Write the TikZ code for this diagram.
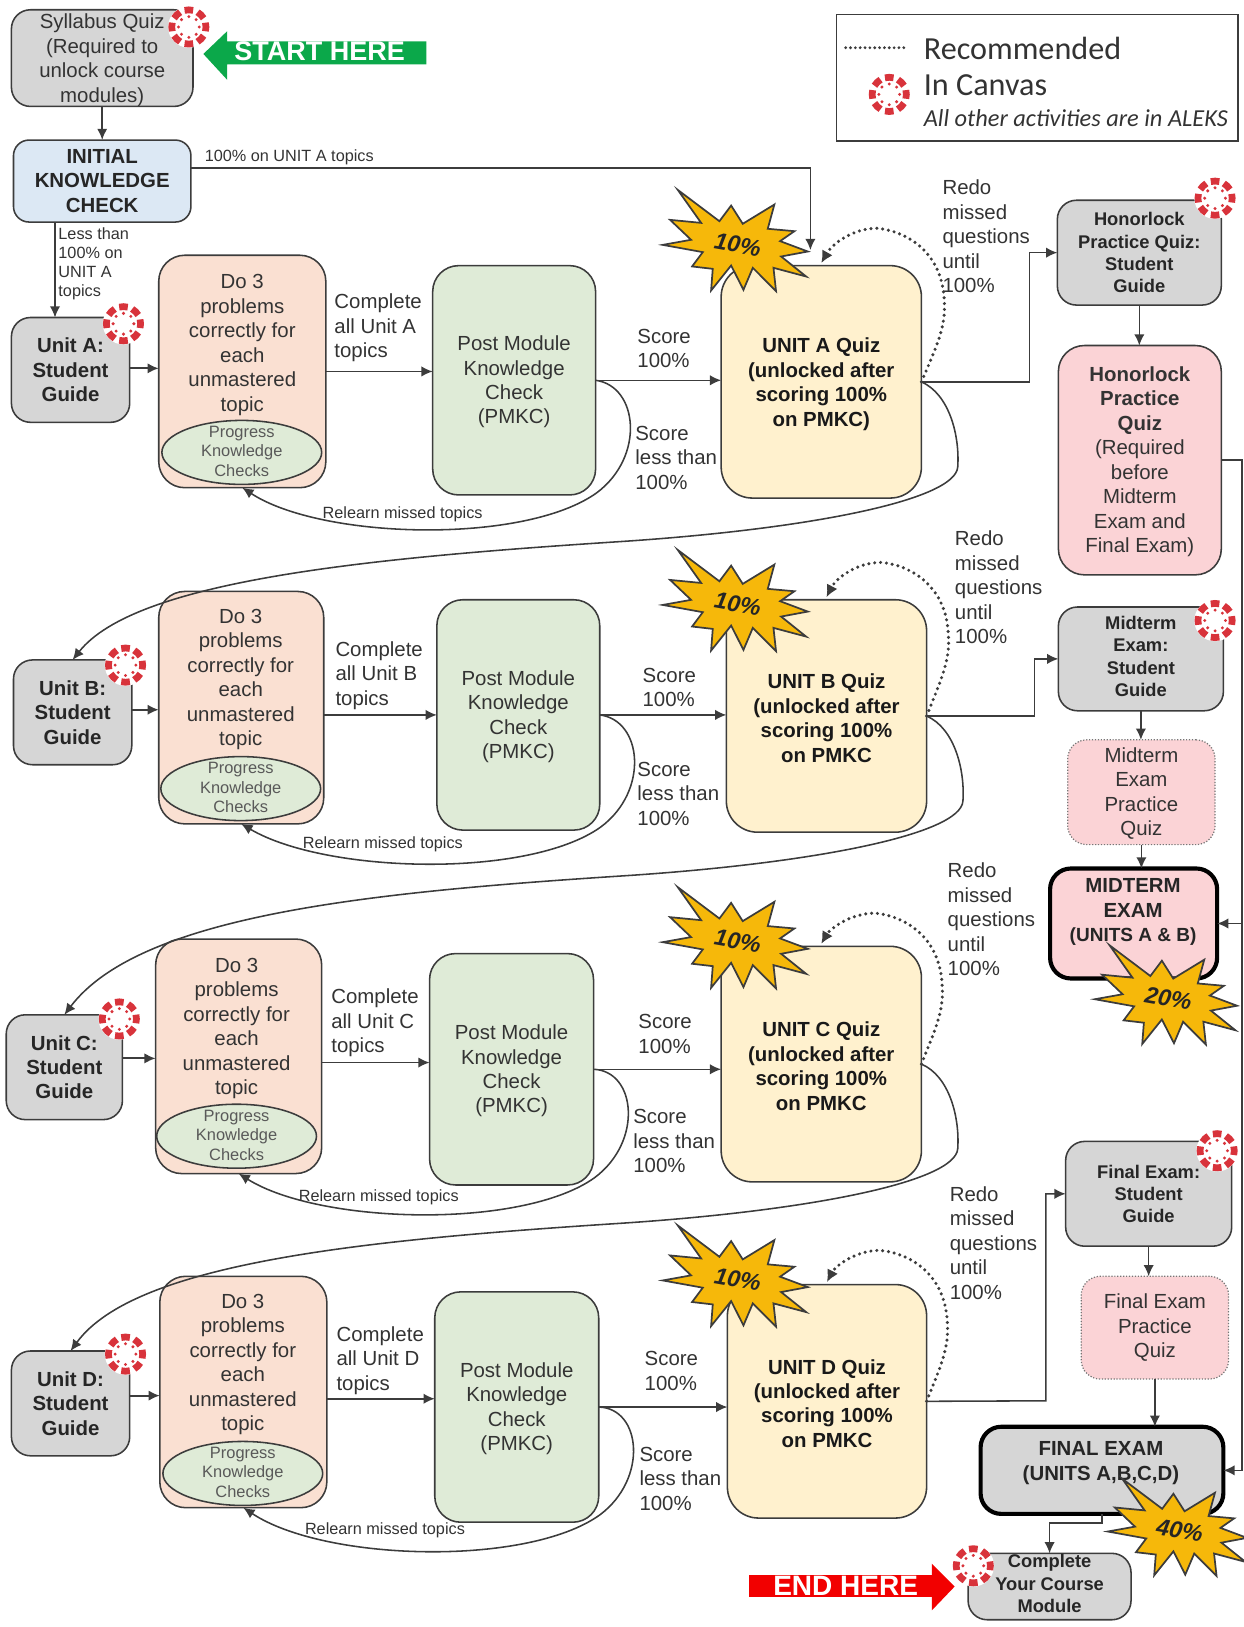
\documentclass[tikz,border=0pt]{standalone}
\usepackage{fontspec}
\setmainfont{Liberation Sans}
\newfontfamily\legfont{Carlito}
\usetikzlibrary{arrows.meta,shapes.geometric,calc}
\definecolor{grayfill}{HTML}{D6D6D6}
\definecolor{bluefill}{HTML}{DCE8F4}
\definecolor{peachfill}{HTML}{FAE0D2}
\definecolor{greenfill}{HTML}{DFEBD7}
\definecolor{yellowfill}{HTML}{FFF1CE}
\definecolor{pinkfill}{HTML}{FBD3D6}
\definecolor{edge}{HTML}{3C3C3C}
\definecolor{txt}{HTML}{333333}
\definecolor{canvasred}{HTML}{D8333B}
\definecolor{burstfill}{HTML}{F6B80A}
\definecolor{startgreen}{HTML}{0BA84A}
\newcommand{\fs}[2]{\fontsize{#1}{#2}\selectfont}
\newcommand{\nd}[1]{\rule{0pt}{#1}}
\tikzset{
 nudgeup/.style={execute at end node={\rule[-#1]{0pt}{0pt}}},
 bxbase/.style={draw=edge,line width=.9pt,inner sep=0pt,outer sep=0pt,align=center,text=txt,font=\fs{11.8}{14.15}},
 graybox/.style={bxbase,fill=grayfill,rounded corners=11pt},
 sgbox/.style={graybox,font=\bfseries\fs{11.8}{14.1},text=black!85},
 smallgray/.style={graybox,font=\bfseries\fs{10.6}{12.9},text=black!85},
 icbox/.style={bxbase,fill=bluefill,rounded corners=9pt,font=\bfseries\fs{11.8}{14.3},text=black!85},
 dobox/.style={bxbase,fill=peachfill,rounded corners=15pt},
 pmbox/.style={bxbase,fill=greenfill,rounded corners=15pt},
 qzbox/.style={bxbase,fill=yellowfill,rounded corners=18pt,font=\bfseries\fs{11.8}{14.15},text=black!90},
 pinkbig/.style={bxbase,fill=pinkfill,rounded corners=15pt},
 pinkdot/.style={bxbase,fill=pinkfill,rounded corners=11pt,draw=edge!70,line width=.7pt,densely dotted},
 exambox/.style={bxbase,line width=2.4pt,draw=black,rounded corners=12pt},
 pkell/.style={ellipse,draw=edge,line width=.9pt,fill=greenfill,inner sep=0pt,outer sep=0pt},
 pktext/.style={inner sep=0pt,align=center,text=edge!85,font=\fs{9.5}{11.4}},
 txtblock/.style={inner sep=0pt,align=center,text=txt,font=\fs{11.8}{14.15}},
 lbl/.style={inner sep=0pt,anchor=west,align=left,text=txt,font=\fs{11.8}{14.2}},
 smalllbl/.style={inner sep=0pt,align=left,text=txt,font=\fs{9.4}{11}},
 arr/.style={-{Latex[length=6.5pt,width=6pt]},line width=.9pt,draw=edge},
 dotline/.style={line width=2pt,draw=edge,line cap=round,dash pattern=on 0pt off 3.4pt},
 bursttext/.style={inner sep=0pt,rotate=-10,font=\bfseries\itshape\fs{13.5}{14},text=black!85},
 burst/.pic={
  \draw[fill=burstfill,draw=edge,line width=1pt,line join=miter]
   (-57.8,-52)--(-17.7,-21.8)--(-6.4,-36.9)--(4.8,-19.3)--(35.3,-37.9)--(28.9,-14.5)--(54.6,-12.2)
   --(40.8,-2.6)--(67.5,7.4)--(41.8,12.2)--(65.9,31.5)--(34.4,23.1)--(36.9,45.6)--(14.5,23.1)
   --(5.5,44.3)--(-6.4,20.9)--(-25.7,45)--(-24.1,24.1)--(-44,21.8)--(-33.7,8)--(-72.3,1)--(-45,-3.9)
   --(-65.2,-23.1)--(-35.3,-20.2)--cycle;
 },
 canvasicon/.pic={
  \fill[white] (0,0) circle (20);
  \foreach \a in {0,45,...,315}{
   \draw[canvasred,line width=3.9pt] (\a-14.5:16.5) arc[start angle=\a-14.5,end angle=\a+14.5,radius=16.5];
   \fill[canvasred] (\a:10) circle (1.6);
  }
 }
}
\newcommand{\bx}[7][]{%
 \pgfmathsetmacro\bxcx{(#3+#5)/2}\pgfmathsetmacro\bxcy{(#4+#6)/2}%
 \node[#1,minimum width={(#5-#3)*0.6pt},minimum height={(#6-#4)*0.6pt}] (#2) at (\bxcx,\bxcy) {#7};}
\newcommand{\dotxt}{Do 3\\problems\\correctly for\\each\\unmastered\\topic}
\newcommand{\pktxt}{Progress\\Knowledge\\Checks}
\newcommand{\pmtxt}{\nd{10.5pt}Post Module\\Knowledge\\Check\\(PMKC)}
\newcommand{\rowloops}[3]{%
 \begin{scope}[shift={(#2,#3)}]
  \draw[arr] (pm#1.east) .. controls (615,372) and (622,440) .. (575,475) .. controls (505,525) and (310,520) .. (do#1.south);
  \draw[dotline,-{Latex[length=7pt,width=7pt]}] (qz#1.east) .. controls (902,335) and (912,315) .. (910,290) .. controls (908,240) and (870,222) .. (845,220) .. controls (822,220) and (802,235) .. ([yshift=1.5pt]qz#1.north);
 \end{scope}}
\newcommand{\nextrow}[4]{%
 \begin{scope}[shift={(#3,#4)}]
  \draw[arr] (qz#1.east) .. controls (915,380) and (925,420) .. (923,450) .. controls (921,482) and (780,510) .. (597,522) .. controls (350,538) and (130,560) .. (sg#2.north);
 \end{scope}}
\begin{document}
\begin{tikzpicture}[x=0.6pt,y=-0.6pt]
\useasboundingbox (0,0) rectangle (1198,1568);
% top
\bx[graybox]{syl}{11}{10}{186}{102}{\nd{11pt}Syllabus Quiz\\(Required to\\unlock course\\modules)}
\bx[icbox]{ikc}{13}{135}{184}{214}{INITIAL\\KNOWLEDGE\\CHECK}
% row A
\bx[sgbox]{sgA}{11}{306}{125}{407}{Unit A:\\Student\\Guide}
\bx[dobox]{doA}{153}{246}{314}{470}{}
\node[txtblock] (doAtx) at (233.5,332.5) {\dotxt};
\node[pkell,minimum width=92.4pt,minimum height=37pt] (pkA) at (233,436) {};
\node[pktext] (pkAtx) at (233,435) {\pktxt};
\bx[pmbox]{pmA}{417}{256}{574}{477}{\pmtxt}
\bx[qzbox]{qzA}{695}{256}{888}{480}{\nd{11.5pt}UNIT A Quiz\\(unlocked after\\scoring 100\%\\on PMKC)}
% row B
\bx[sgbox]{sgB}{13}{636}{127}{737}{Unit B:\\Student\\Guide}
\bx[dobox]{doB}{153}{570}{312}{794}{}
\node[txtblock] (doBtx) at (232,655) {\dotxt};
\node[pkell,minimum width=92.4pt,minimum height=37pt] (pkB) at (232,760) {};
\node[pktext] (pkBtx) at (232,759) {\pktxt};
\bx[pmbox]{pmB}{421}{578}{578}{800}{\pmtxt}
\bx[qzbox]{qzB}{700}{578}{893}{802}{\nd{11pt}UNIT B Quiz\\(unlocked after\\scoring 100\%\\on PMKC}
% row C
\bx[sgbox]{sgC}{6}{978}{118}{1079}{Unit C:\\Student\\Guide}
\bx[dobox]{doC}{150}{905}{310}{1131}{}
\node[txtblock] (doCtx) at (228,991) {\dotxt};
\node[pkell,minimum width=92.4pt,minimum height=37pt] (pkC) at (228,1095) {};
\node[pktext] (pkCtx) at (228,1094) {\pktxt};
\bx[pmbox]{pmC}{414}{919}{572}{1142}{\pmtxt}
\bx[qzbox]{qzC}{695}{912}{888}{1139}{\nd{11pt}UNIT C Quiz\\(unlocked after\\scoring 100\%\\on PMKC}
% row D
\bx[sgbox]{sgD}{11}{1302}{125}{1403}{Unit D:\\Student\\Guide}
\bx[dobox]{doD}{154}{1230}{315}{1453}{}
\node[txtblock] (doDtx) at (234,1315) {\dotxt};
\node[pkell,minimum width=92.4pt,minimum height=37pt] (pkD) at (234,1420) {};
\node[pktext] (pkDtx) at (234,1419) {\pktxt};
\bx[pmbox]{pmD}{419}{1245}{577}{1467}{\pmtxt}
\bx[qzbox]{qzD}{701}{1238}{893}{1463}{\nd{11pt}UNIT D Quiz\\(unlocked after\\scoring 100\%\\on PMKC}
% right column
\bx[smallgray]{hqg}{1019}{193}{1177}{294}{Honorlock\\Practice Quiz:\\Student\\Guide}
\bx[pinkbig]{hqz}{1020}{333}{1177}{554}{\nd{10.5pt}\textbf{Honorlock}\\\textbf{Practice}\\\textbf{Quiz}\\(Required\\before\\Midterm\\Exam and\\Final Exam)}
\bx[smallgray,nudgeup=2.8pt]{msg}{1020}{585}{1179}{685}{Midterm\\Exam:\\Student\\Guide}
\bx[pinkdot]{mpq}{1029}{713}{1171}{814}{\tikzset{solid}\nd{10pt}Midterm\\Exam\\Practice\\Quiz}
\bx[exambox,fill=pinkfill]{mid}{1012}{837}{1173}{943}{}
\node[txtblock,font=\bfseries\fs{11.8}{14.1},text=black!85] (midtx) at (1092,879) {MIDTERM\\EXAM\\{\fs{11}{14.1}(UNITS A \& B)}};
\bx[smallgray]{fsg}{1027}{1100}{1187}{1201}{Final Exam:\\Student\\Guide}
\bx[pinkdot]{fpq}{1042}{1230}{1184}{1329}{Final Exam\\Practice\\Quiz}
\bx[exambox,fill=grayfill]{fin}{945}{1375}{1179}{1459}{}
\node[txtblock,font=\bfseries\fs{11.8}{15},text=black!85] (fintx) at (1061,1410) {FINAL EXAM\\(UNITS A,B,C,D)};
\bx[smallgray,nudgeup=3.5pt]{cyc}{933}{1497}{1090}{1561}{Complete\\Your Course\\Module}
% bursts
\pic at (711,235) {burst};
\pic at (711,582) {burst};
\pic at (711,907) {burst};
\pic at (711,1233) {burst};
\pic[scale=.98] at (1126,962) {burst};
\pic[scale=.96] at (1137,1475) {burst};
\node[bursttext] (b10A) at (711,236) {10\%};
\node[bursttext] (b10B) at (711,582) {10\%};
\node[bursttext] (b10C) at (711,907) {10\%};
\node[bursttext] (b10D) at (711,1233) {10\%};
\node[bursttext] (b20) at (1126,962) {20\%};
\node[bursttext] (b40) at (1137,1475) {40\%};
% connectors
\draw[arr,line width=1.3pt] (syl.south) -- (ikc.north);
\draw[arr] ([yshift=7.5pt]ikc.east) -| ([xshift=-6.3pt,yshift=9pt]qzA.north);
\draw[arr] ([xshift=-27.3pt]ikc.south) -- ([xshift=-27.3pt]ikc.south |- sgA.north);
\foreach \L/\ds/\dd in {A/-1.5/0, B/-2.5/7, C/-8.5/6, D/-7.5/6.5}{
 \draw[arr,line width=1.1pt] ([yshift={-0.6*(\ds)*1pt}]sg\L.east) -- ([yshift={-0.6*(\ds)*1pt}]sg\L.east -| do\L.west);
 \draw[arr] ([yshift={-0.6*(\dd)*1pt}]do\L.east) -- ([yshift={-0.6*(\dd)*1pt}]do\L.east -| pm\L.west);
 \draw[arr] (pm\L.east) -- (pm\L.east -| qz\L.west);
}
\rowloops{A}{0}{0}
\rowloops{B}{4}{322}
\rowloops{C}{-2}{660}
\rowloops{D}{3}{985}
\nextrow{A}{B}{0}{0}
\nextrow{B}{C}{5}{322}
\nextrow{C}{D}{0}{657}
\coordinate (qzAout) at (992,368);
\coordinate (qzBout) at (997,690);
\coordinate (qzDout) at (1008,1350);
\draw[arr] (qzA.east) -- (qzAout) |- (hqg.west);
\draw[arr] (qzB.east) -- (qzBout) |- (msg.west);
\draw[arr] (qzD.east) -- (qzDout) |- (fsg.west);
\draw[arr] (hqg.south) -- (hqg.south |- hqz.north);
\draw[arr] (msg.south) -- (msg.south |- mpq.north);
\draw[arr] (mpq.south) -- (mpq.south |- mid.north);
\draw[arr] (fsg.south) -- (fsg.south |- fpq.north);
\draw[arr] (fpq.south) -- (fpq.south |- fin.north);
\coordinate (railtop) at (1197,443.5);
\draw[arr] (hqz.east) -- (railtop) |- (fin.east);
\draw[arr] (railtop |- mid.east) -- (mid.east);
\coordinate (finout) at (1062,1468);
\draw[arr] (fin.south) -- (finout) -| (cyc.north);
% labels
\node[smalllbl,anchor=west] (l100) at (197,152) {100\% on UNIT A topics};
\node[smalllbl,anchor=west] (lless) at (56,254) {Less than\\100\% on\\UNIT A\\topics};
\foreach \N/\U/\xa/\ya/\xb/\yb/\xc/\yc/\xd/\yd/\xe/\ye in {
 A/A/322/316/614/336/612/441/908/228/388/496,
 B/B/323/651/619/662.5/614/765/920/566/369/814,
 C/C/319/986/615/996.5/610/1100/913/886/365/1154,
 D/D/324/1311/621/1321.5/616/1425/915/1198/371/1475}{
 \node[lbl] (cmp\N) at (\xa,\ya) {Complete\\all Unit \U\\topics};
 \node[lbl] (sc\N) at (\xb,\yb) {Score\\100\%};
 \node[lbl] (sl\N) at (\xc,\yc) {Score\\less than\\100\%};
 \node[lbl] (rd\N) at (\xd,\yd) {Redo\\missed\\questions\\until\\100\%};
 \node[smalllbl,anchor=center] (rl\N) at (\xe,\ye) {Relearn missed topics};
}
% start and end arrows
\fill[startgreen] (196,52)--(219,30)--(219,40)--(411,40)--(411,62)--(219,62)--(219,77)--cycle;
\node[inner sep=0pt,text=white,font=\bfseries\fs{15.6}{18}] (start) at (308,49) {START HERE};
\fill[red!95!black] (722,1518)--(898,1518)--(898,1507)--(920,1529)--(898,1552)--(898,1539)--(722,1539)--cycle;
\node[inner sep=0pt,text=white,font=\bfseries\fs{16.2}{18}] (endh) at (815,1528) {END HERE};
% canvas icons
\pic at (182,26) {canvasicon};
\pic at (119,312) {canvasicon};
\pic at (121,641) {canvasicon};
\pic at (115,982) {canvasicon};
\pic at (121,1305) {canvasicon};
\pic at (1171,191) {canvasicon};
\pic at (1171,598) {canvasicon};
\pic at (1173,1109) {canvasicon};
\pic at (938,1509) {canvasicon};
% legend
\bx[draw=edge,line width=.9pt,inner sep=0pt]{legend}{806}{14}{1193}{136}{}
\coordinate (legA) at (815,46);
\coordinate (legB) at (873,46);
\draw[dotline,line width=1.8pt,dash pattern=on 0pt off 2.8pt] (legA) -- (legB);
\pic at (857,91) {canvasicon};
\node[lbl,font=\legfont\fs{18.6}{20}] (rec) at (890,47) {Recommended};
\node[lbl,font=\legfont\fs{18.6}{20}] (inc) at (890,82) {In Canvas};
\node[lbl,font=\legfont\itshape\fs{14.1}{15}] (oth) at (890,114) {All other activities are in ALEKS};
\end{tikzpicture}
\end{document}
